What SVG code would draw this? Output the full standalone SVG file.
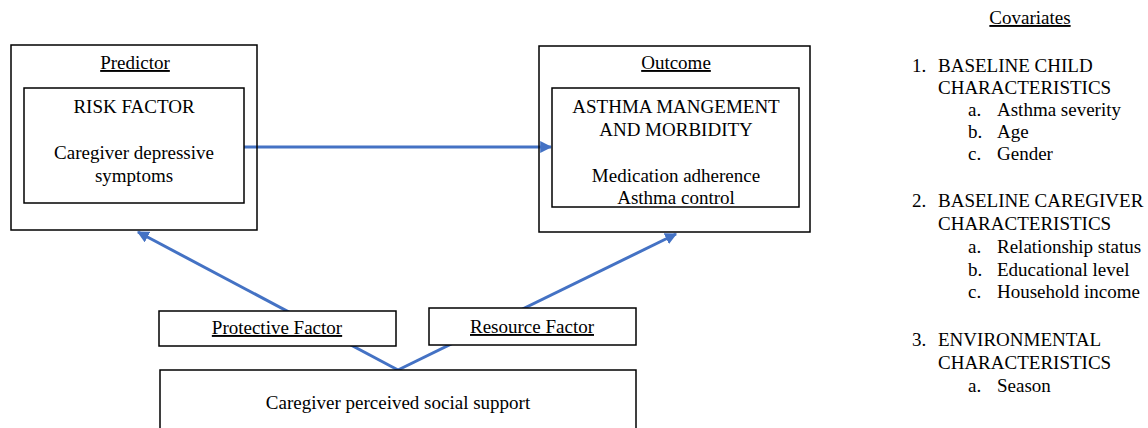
<svg xmlns="http://www.w3.org/2000/svg" width="1148" height="428" viewBox="0 0 1148 428">
<defs>
<style>
text{font-family:"Liberation Serif","Times New Roman",serif;font-size:19px;fill:#000}
.c{text-anchor:middle}
.u{text-decoration:underline}
.box{fill:#fff;stroke:#000;stroke-width:1.5}
.frame{fill:none;stroke:#000;stroke-width:1.5}
.conn{stroke:#4472C4;stroke-width:3;fill:none}
</style>
<marker id="ah" viewBox="0 0 10 10" refX="9" refY="5" markerWidth="4" markerHeight="4" orient="auto" markerUnits="strokeWidth">
<path d="M0,0 L10,5 L0,10 z" fill="#4472C4"/>
</marker>
</defs>
<rect width="1148" height="428" fill="#fff"/>
<g id="connectors">
<line class="conn" x1="244" y1="147" x2="551" y2="147" marker-end="url(#ah)"/>
<line class="conn" x1="398" y1="370" x2="138" y2="232" marker-end="url(#ah)"/>
<line class="conn" x1="398" y1="370" x2="676" y2="234" marker-end="url(#ah)"/>
</g>
<g id="predictor">
<rect class="frame" x="11" y="45" width="246" height="185"/>
<text class="c u" x="135" y="69">Predictor</text>
</g>
<g id="risk-factor">
<rect class="box" x="24" y="88" width="220" height="115"/>
<text class="c" x="134" y="113">RISK FACTOR</text>
<text class="c" x="134" y="159">Caregiver depressive</text>
<text class="c" x="134" y="182">symptoms</text>
</g>
<g id="outcome">
<rect class="frame" x="539" y="46" width="271" height="186"/>
<text class="c u" x="676" y="69">Outcome</text>
</g>
<g id="asthma">
<rect class="box" x="552" y="88" width="247" height="119"/>
<text class="c" x="676" y="113">ASTHMA MANGEMENT</text>
<text class="c" x="676" y="136">AND MORBIDITY</text>
<text class="c" x="676" y="182">Medication adherence</text>
<text class="c" x="676" y="204">Asthma control</text>
</g>
<g id="protective">
<rect class="box" x="159" y="311" width="237" height="35"/>
<text class="c u" x="277" y="334">Protective Factor</text>
</g>
<g id="resource">
<rect class="box" x="429" y="308" width="207" height="37"/>
<text class="c u" x="532" y="333">Resource Factor</text>
</g>
<g id="social-support">
<rect class="box" x="160" y="370" width="476" height="70"/>
<text class="c" x="398" y="409">Caregiver perceived social support</text>
</g>
<g id="covariates">
<text class="c u" x="1030" y="24">Covariates</text>
<text x="912" y="72">1.</text><text x="938" y="72">BASELINE CHILD</text>
<text x="938" y="94">CHARACTERISTICS</text>
<text x="968" y="116">a.</text><text x="997" y="116">Asthma severity</text>
<text x="968" y="138">b.</text><text x="997" y="138">Age</text>
<text x="968" y="160">c.</text><text x="997" y="160">Gender</text>
<text x="912" y="207">2.</text><text x="938" y="207">BASELINE CAREGIVER</text>
<text x="938" y="230">CHARACTERISTICS</text>
<text x="968" y="253">a.</text><text x="997" y="253">Relationship status</text>
<text x="968" y="276">b.</text><text x="997" y="276">Educational level</text>
<text x="968" y="298">c.</text><text x="997" y="298">Household income</text>
<text x="912" y="346">3.</text><text x="938" y="346">ENVIRONMENTAL</text>
<text x="938" y="369">CHARACTERISTICS</text>
<text x="968" y="392">a.</text><text x="997" y="392">Season</text>
</g>
</svg>
